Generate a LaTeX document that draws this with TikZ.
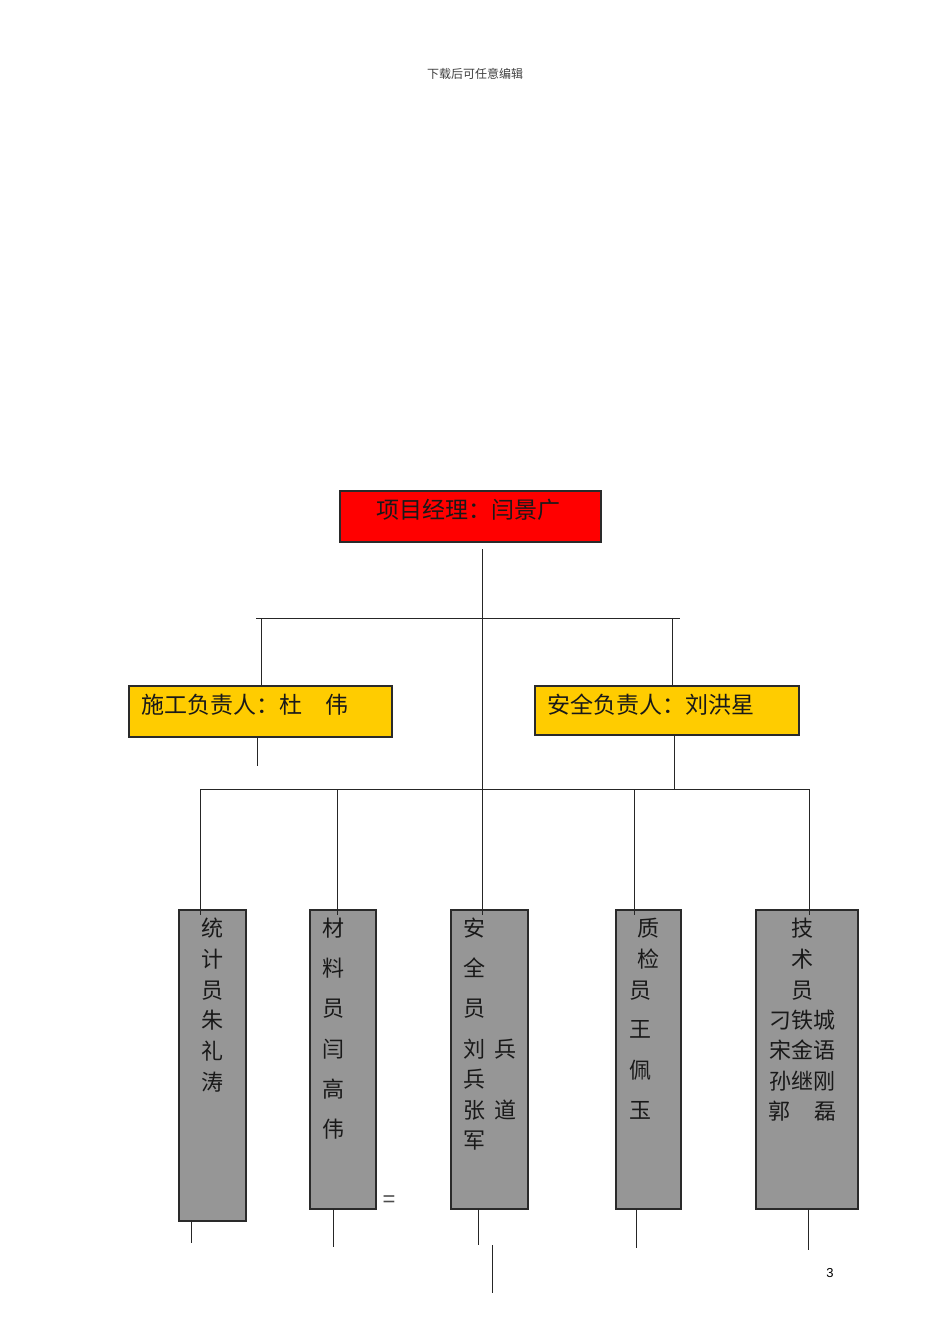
\documentclass[tikz,border=0pt]{standalone}
\usepackage{fontspec}
\newfontfamily\cjk{Noto Sans CJK SC}
\newfontfamily\lat{Liberation Sans}
\definecolor{boxred}{HTML}{FF0000}
\definecolor{boxyellow}{HTML}{FFCC00}
\definecolor{boxgray}{HTML}{969696}
\definecolor{edge}{HTML}{2A2A2A}
\tikzset{
  box/.style={draw=edge, line width=1.3pt, inner sep=0pt, outer sep=0pt},
  big/.style={font=\cjk\fontsize{23}{23}\selectfont, inner sep=0pt, anchor=base west, text=black!90},
  ctxt/.style={font=\cjk\fontsize{22}{22}\selectfont, inner sep=0pt, anchor=base, text=black!90},
  conn/.style={draw=black!85, line width=1pt},
}
\begin{document}
\begin{tikzpicture}[x=1pt,y=-1pt]
\useasboundingbox[fill=white] (0,0) rectangle (950,1344);

% header and page number
\node[font=\cjk\fontsize{12}{12}\selectfont, text=black!75, inner sep=0pt] (hdr) at (475,74) {下载后可任意编辑};
\node[font=\lat\fontsize{13}{13}\selectfont, inner sep=0pt] (pg) at (830,1273) {3};
\node[font=\lat\fontsize{22}{22}\selectfont, inner sep=0pt, text=black!70] (eq) at (389,1201) {=};

% boxes
\node[box, fill=boxred, minimum width=261pt, minimum height=51pt] (pm) at (470.5,516.5) {};
\node[box, fill=boxyellow, minimum width=263pt, minimum height=51pt] (yl) at (260.5,711.5) {};
\node[box, fill=boxyellow, minimum width=264pt, minimum height=49pt] (yr) at (667,710.5) {};
\node[box, fill=boxgray, minimum width=67pt, minimum height=311pt] (b1) at (212.5,1065.5) {};
\node[box, fill=boxgray, minimum width=66pt, minimum height=299pt] (b2) at (343,1059.5) {};
\node[box, fill=boxgray, minimum width=77pt, minimum height=299pt] (b3) at (489.5,1059.5) {};
\node[box, fill=boxgray, minimum width=65pt, minimum height=299pt] (b4) at (648.5,1059.5) {};
\node[box, fill=boxgray, minimum width=102pt, minimum height=299pt] (b5) at (807,1059.5) {};

% box titles
\node[big] (pmt) at (376,518.5) {项目经理：闫景广};
\node[big] (ylt) at (141,713.5) {施工负责人：杜　伟};
\node[big] (yrt) at (547,713.5) {安全负责人：刘洪星};

% box 1
\foreach \t [count=\i] in {统,计,员,朱,礼,涛}
  \node[ctxt] (b1t\i) at (212.5,{936.4+30.8*(\i-1)}) {\t};
% box 2
\foreach \t [count=\i] in {材,料,员,闫,高,伟}
  \node[ctxt] (b2t\i) at (333,{936.4+40.2*(\i-1)}) {\t};
% box 3
\node[ctxt] (b3a) at (474,936.4) {安};
\node[ctxt] (b3b) at (474,976.4) {全};
\node[ctxt] (b3c) at (474,1016.4) {员};
\node[ctxt] (b3d) at (474,1057.4) {刘};
\node[ctxt] (b3e) at (505,1057.4) {兵};
\node[ctxt] (b3f) at (474,1087.4) {兵};
\node[ctxt] (b3g) at (474,1118.4) {张};
\node[ctxt] (b3h) at (505,1118.4) {道};
\node[ctxt] (b3i) at (474,1148.4) {军};
% box 4
\node[ctxt] (b4a) at (648,936.4) {质};
\node[ctxt] (b4b) at (648,967.4) {检};
\node[ctxt] (b4c) at (640,998.4) {员};
\node[ctxt] (b4d) at (640,1037.4) {王};
\node[ctxt] (b4e) at (640,1078.4) {佩};
\node[ctxt] (b4f) at (640,1118.4) {玉};
% box 5
\node[ctxt] (b5a) at (802,936.4) {技};
\node[ctxt] (b5b) at (802,967.4) {术};
\node[ctxt] (b5c) at (802,998.4) {员};
\node[ctxt] (b5d) at (802.5,1028.4) {刁铁城};
\node[ctxt] (b5e) at (802.5,1058.4) {宋金语};
\node[ctxt] (b5f) at (802.5,1089.4) {孙继刚};
\node[ctxt] (b5g) at (779,1119.4) {郭};
\node[ctxt] (b5h) at (825,1119.4) {磊};

% connector points
\coordinate (m0) at (482,549);
\coordinate (m1) at (482,915);
\coordinate (hL) at (256,618);
\coordinate (hR) at (680,618);
\coordinate (l0) at (261,618);
\coordinate (l1) at (261,686);
\coordinate (r0) at (672,618);
\coordinate (r1) at (672,686);
\coordinate (ls0) at (257,737);
\coordinate (ls1) at (257,766);
\coordinate (rs0) at (674,735);
\coordinate (rs1) at (674,789);
\coordinate (gL) at (200,789);
\coordinate (gR) at (809,789);
\coordinate (v1) at (200,915);
\coordinate (v2a) at (337,789);
\coordinate (v2) at (337,915);
\coordinate (v4a) at (634,789);
\coordinate (v4) at (634,915);
\coordinate (v5) at (809,915);
\coordinate (d1a) at (191,1221);
\coordinate (d1b) at (191,1243);
\coordinate (d2a) at (333,1209);
\coordinate (d2b) at (333,1247);
\coordinate (d3a) at (478,1209);
\coordinate (d3b) at (478,1245);
\coordinate (d6a) at (492,1245);
\coordinate (d6b) at (492,1293);
\coordinate (d4a) at (636,1209);
\coordinate (d4b) at (636,1248);
\coordinate (d5a) at (808,1209);
\coordinate (d5b) at (808,1250);

% connectors
\draw[conn] (m0) -- (m1);
\draw[conn] (hL) -- (hR);
\draw[conn] (l0) -- (l1);
\draw[conn] (r0) -- (r1);
\draw[conn] (ls0) -- (ls1);
\draw[conn] (rs0) -- (rs1);
\draw[conn] (gL) -- (gR);
\draw[conn] (gL) -- (v1);
\draw[conn] (v2a) -- (v2);
\draw[conn] (v4a) -- (v4);
\draw[conn] (gR) -- (v5);
\draw[conn] (d1a) -- (d1b);
\draw[conn] (d2a) -- (d2b);
\draw[conn] (d3a) -- (d3b);
\draw[conn] (d6a) -- (d6b);
\draw[conn] (d4a) -- (d4b);
\draw[conn] (d5a) -- (d5b);
\end{tikzpicture}
\end{document}
